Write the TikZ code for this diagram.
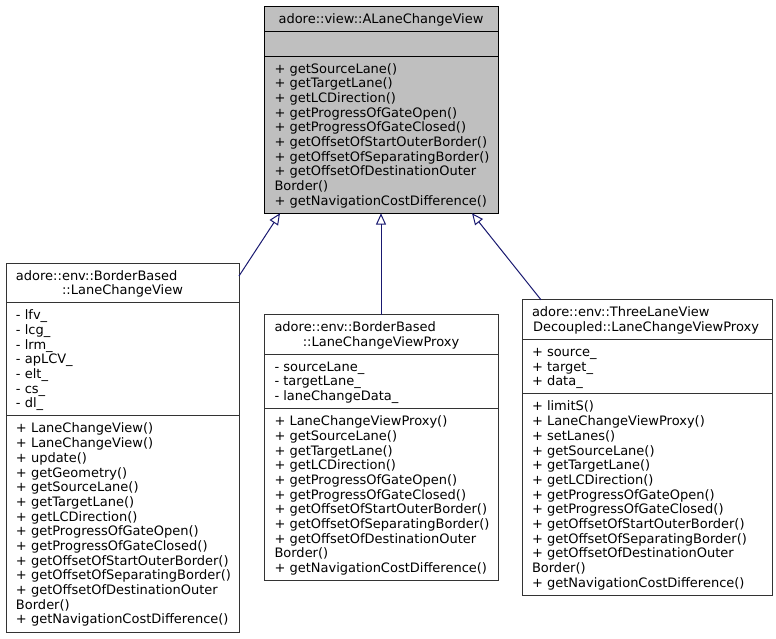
\documentclass[tikz,border=0pt]{standalone}
\usepackage{fontspec}
\setmainfont{DejaVu Sans}
\usetikzlibrary{arrows.meta,fit}
\definecolor{edgeblue}{HTML}{191970}
\definecolor{hlfill}{HTML}{BFBFBF}
\definecolor{boxline}{HTML}{333333}
\newcommand{\mlines}[1]{\vtop{\baselineskip=11.025pt\lineskiplimit=-20pt\lineskip=0pt\halign{##\hfil\cr#1\crcr}}}
\begin{document}
\begin{tikzpicture}[x=0.75pt,y=-0.75pt,
  classbox/.style={draw=boxline,line width=0.75pt,fill=white,inner sep=0pt,outer sep=0pt,rectangle},
  hlbox/.style={classbox,draw=black,fill=hlfill},
  sepline/.style={draw=boxline,line width=0.75pt},
  hlsep/.style={draw=black,line width=0.75pt},
  txt/.style={inner sep=0pt,outer sep=0pt,font=\fontsize{9.75}{11.025}\selectfont,text=black},
  inherit/.style={draw=edgeblue,line width=0.75pt,-{Triangle[open,length=8.5pt,width=7.5pt]}}]
\path[use as bounding box] (0,0) rectangle (776,639);

% ---------- top class ----------
\node[hlbox,fit={(264,6) (498,213.3)}] (A) {};
\draw[hlsep] (264,31) -- (498,31);
\draw[hlsep] (264,56) -- (498,56);
\node[txt,anchor=base] (A-t) at (381,23) {adore::view::ALaneChangeView};
\node[txt,anchor=base west] (A-m) at (274.5,73) {\mlines{%
+ getSourceLane()\cr
+ getTargetLane()\cr
+ getLCDirection()\cr
+ getProgressOfGateOpen()\cr
+ getProgressOfGateClosed()\cr
+ getOffsetOfStartOuterBorder()\cr
+ getOffsetOfSeparatingBorder()\cr
+ getOffsetOfDestinationOuter\cr
Border()\cr
+ getNavigationCostDifference()}};

% ---------- left class ----------
\node[classbox,fit={(6,263) (239,632)}] (L) {};
\draw[sepline] (6,302.7) -- (239,302.7);
\draw[sepline] (6,415.9) -- (239,415.9);
\node[txt,anchor=base west] (L-t1) at (16,280) {adore::env::BorderBased};
\node[txt,anchor=base] (L-t2) at (122.5,294.7) {::LaneChangeView};
\node[txt,anchor=base west] (L-a) at (16,319.7) {\mlines{%
- lfv\_\cr
- lcg\_\cr
- lrm\_\cr
- apLCV\_\cr
- elt\_\cr
- cs\_\cr
- dl\_}};
\node[txt,anchor=base west] (L-m) at (16,432.9) {\mlines{%
+ LaneChangeView()\cr
+ LaneChangeView()\cr
+ update()\cr
+ getGeometry()\cr
+ getSourceLane()\cr
+ getTargetLane()\cr
+ getLCDirection()\cr
+ getProgressOfGateOpen()\cr
+ getProgressOfGateClosed()\cr
+ getOffsetOfStartOuterBorder()\cr
+ getOffsetOfSeparatingBorder()\cr
+ getOffsetOfDestinationOuter\cr
Border()\cr
+ getNavigationCostDifference()}};

% ---------- middle class ----------
\node[classbox,fit={(264,314.5) (498,580.6)}] (M) {};
\draw[sepline] (264,354.2) -- (498,354.2);
\draw[sepline] (264,408.6) -- (498,408.6);
\node[txt,anchor=base west] (M-t1) at (274.5,331.5) {adore::env::BorderBased};
\node[txt,anchor=base] (M-t2) at (381,346.2) {::LaneChangeViewProxy};
\node[txt,anchor=base west] (M-a) at (274.5,371.2) {\mlines{%
- sourceLane\_\cr
- targetLane\_\cr
- laneChangeData\_}};
\node[txt,anchor=base west] (M-m) at (274.5,425.6) {\mlines{%
+ LaneChangeViewProxy()\cr
+ getSourceLane()\cr
+ getTargetLane()\cr
+ getLCDirection()\cr
+ getProgressOfGateOpen()\cr
+ getProgressOfGateClosed()\cr
+ getOffsetOfStartOuterBorder()\cr
+ getOffsetOfSeparatingBorder()\cr
+ getOffsetOfDestinationOuter\cr
Border()\cr
+ getNavigationCostDifference()}};

% ---------- right class ----------
\node[classbox,fit={(522,299.8) (772,595.3)}] (R) {};
\draw[sepline] (522,339.5) -- (772,339.5);
\draw[sepline] (522,393.9) -- (772,393.9);
\node[txt,anchor=base west] (R-t1) at (532,316.8) {adore::env::ThreeLaneView};
\node[txt,anchor=base] (R-t2) at (646,331.5) {Decoupled::LaneChangeViewProxy};
\node[txt,anchor=base west] (R-a) at (532,356.5) {\mlines{%
+ source\_\cr
+ target\_\cr
+ data\_}};
\node[txt,anchor=base west] (R-m) at (532,410.9) {\mlines{%
+ limitS()\cr
+ LaneChangeViewProxy()\cr
+ setLanes()\cr
+ getSourceLane()\cr
+ getTargetLane()\cr
+ getLCDirection()\cr
+ getProgressOfGateOpen()\cr
+ getProgressOfGateClosed()\cr
+ getOffsetOfStartOuterBorder()\cr
+ getOffsetOfSeparatingBorder()\cr
+ getOffsetOfDestinationOuter\cr
Border()\cr
+ getNavigationCostDifference()}};

% ---------- inheritance connectors ----------
\coordinate (L-end) at (239,276);
\coordinate (A-tipL) at (280,213.3);
\coordinate (R-end) at (541,299.8);
\coordinate (A-tipR) at (472,213.3);
\draw[inherit] (L-end) -- (A-tipL);
\draw[inherit] (M.north) -- (A.south);
\draw[inherit] (R-end) -- (A-tipR);
\end{tikzpicture}
\end{document}
